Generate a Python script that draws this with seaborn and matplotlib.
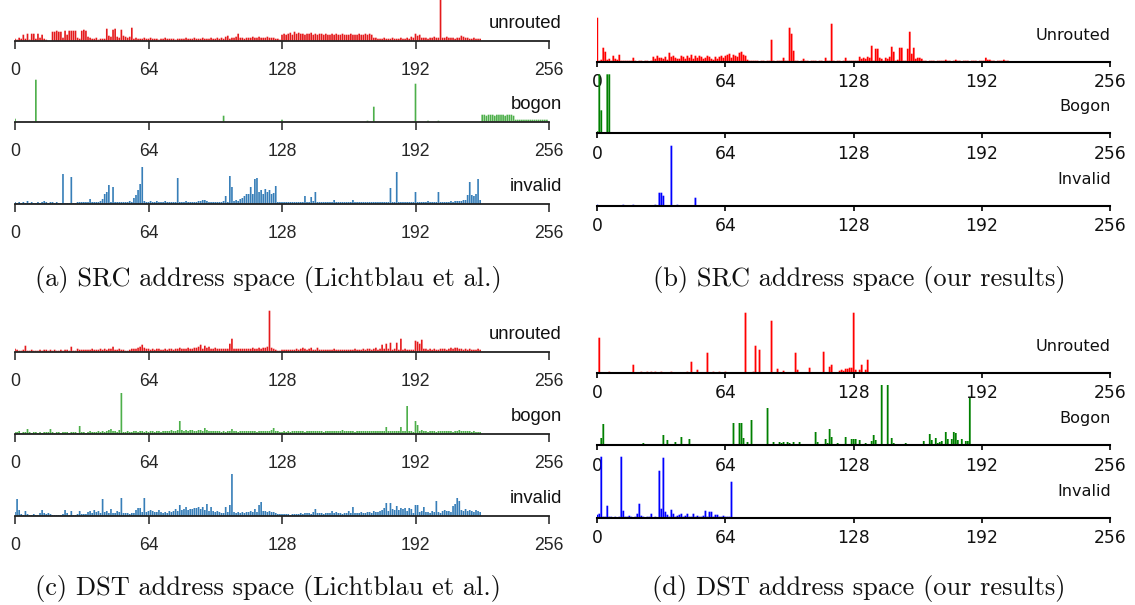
import numpy as np
import matplotlib
matplotlib.use("Agg")
import matplotlib.pyplot as plt
import seaborn as sns

# x axis: first octet of the address (/8 blocks)
ticks = [0, 64, 128, 192, 256]
tick_labels = ["0", "64", "128", "192", "256"]

# bar heights (relative packet counts per /8), index = first octet

# (a) SRC, Lichtblau et al.
src_lit_unrouted = [
    2, 1, 3, 2, 6, 2, 7, 1, 7, 7, 2, 7, 3, 6, 2, 1,
    0, 0, 9, 9, 10, 9, 9, 3, 10, 6, 10, 10, 10, 10, 3, 2,
    10, 11, 10, 4, 3, 2, 2, 3, 1, 2, 2, 2, 12, 5, 4, 11,
    12, 4, 3, 11, 5, 4, 3, 4, 13, 2, 3, 2, 2, 2, 3, 2,
    2, 3, 2, 2, 2, 1, 2, 2, 3, 2, 2, 2, 2, 1, 2, 2,
    2, 2, 3, 2, 2, 2, 3, 2, 2, 2, 3, 2, 2, 2, 3, 2,
    2, 3, 2, 3, 2, 4, 5, 2, 3, 3, 4, 7, 3, 3, 2, 3,
    3, 3, 4, 3, 3, 4, 3, 3, 3, 4, 3, 3, 3, 2, 2, 1,
    6, 7, 6, 7, 8, 6, 9, 7, 8, 7, 7, 6, 7, 7, 8, 6,
    7, 6, 7, 7, 6, 7, 6, 6, 7, 6, 7, 6, 6, 7, 6, 6,
    6, 7, 6, 6, 6, 7, 6, 6, 7, 6, 7, 6, 3, 3, 2, 2,
    2, 3, 2, 2, 2, 3, 2, 2, 2, 3, 2, 2, 3, 2, 4, 3,
    7, 5, 6, 3, 3, 3, 2, 3, 3, 4, 3, 3, 45, 3, 3, 4,
    3, 3, 3, 2, 3, 3, 5, 4, 3, 3, 2, 2, 3, 2, 2, 2,
]
src_lit_bogon = [
    3, 0, 0, 0, 0, 0, 0, 0, 0, 0, 42, 0, 0, 0, 0, 0,
    0, 0, 0, 0, 0, 0, 0, 0, 0, 0, 0, 0, 0, 0, 0, 0,
    0, 0, 0, 0, 0, 0, 0, 0, 0, 0, 0, 0, 0, 0, 0, 0,
    0, 0, 0, 0, 0, 0, 0, 0, 0, 0, 0, 0, 0, 0, 0, 0,
    0, 0, 0, 0, 0, 0, 0, 0, 0, 0, 0, 0, 0, 0, 0, 0,
    0, 0, 0, 0, 0, 0, 0, 0, 0, 0, 0, 0, 0, 0, 0, 0,
    0, 0, 0, 0, 6, 0, 0, 0, 0, 0, 0, 0, 0, 0, 0, 0,
    0, 0, 0, 0, 0, 0, 0, 0, 0, 0, 0, 0, 0, 0, 0, 0,
    2, 0, 0, 0, 0, 0, 0, 0, 0, 0, 0, 0, 0, 0, 0, 0,
    0, 0, 0, 0, 0, 0, 0, 0, 0, 0, 0, 0, 0, 0, 0, 0,
    0, 0, 0, 0, 0, 0, 0, 0, 0, 1, 0, 0, 15, 0, 0, 0,
    0, 0, 0, 0, 0, 0, 0, 0, 0, 0, 0, 0, 0, 0, 0, 0,
    38, 0, 0, 0, 0, 0, 1, 0, 0, 0, 0, 1, 0, 0, 0, 0,
    0, 0, 0, 0, 0, 0, 0, 0, 0, 0, 0, 0, 0, 0, 0, 0,
    7, 7, 6, 7, 7, 7, 6, 7, 7, 7, 7, 6, 7, 7, 7, 6,
    2, 2, 2, 2, 2, 2, 2, 2, 2, 2, 2, 2, 2, 2, 2, 2,
]
src_lit_invalid = [
    2, 1, 2, 1, 2, 1, 3, 1, 2, 1, 1, 2, 1, 2, 3, 2,
    1, 2, 2, 1, 2, 1, 1, 30, 1, 1, 1, 27, 1, 1, 2, 2,
    2, 2, 2, 2, 5, 2, 2, 2, 2, 3, 5, 10, 12, 19, 2, 17,
    2, 2, 2, 2, 2, 2, 2, 3, 2, 6, 9, 14, 20, 37, 3, 2,
    2, 3, 2, 2, 3, 2, 2, 2, 3, 2, 2, 2, 2, 2, 26, 2,
    2, 2, 3, 2, 2, 2, 2, 2, 3, 3, 4, 4, 3, 2, 2, 2,
    2, 2, 2, 2, 3, 8, 2, 28, 17, 3, 4, 3, 5, 6, 8, 10,
    10, 17, 10, 25, 26, 12, 14, 10, 15, 12, 14, 10, 11, 18, 2, 2,
    2, 2, 2, 2, 2, 2, 2, 2, 2, 2, 2, 8, 2, 2, 7, 3,
    12, 2, 2, 2, 2, 2, 2, 2, 2, 4, 2, 2, 2, 2, 2, 2,
    2, 2, 4, 2, 2, 2, 2, 2, 2, 2, 2, 2, 2, 2, 2, 2,
    2, 2, 2, 2, 16, 2, 2, 32, 2, 2, 2, 2, 2, 2, 2, 2,
    12, 2, 2, 2, 2, 2, 3, 2, 2, 2, 2, 12, 2, 2, 2, 2,
    2, 3, 2, 3, 3, 3, 3, 4, 4, 9, 22, 9, 8, 10, 25, 4,
]

# (b) SRC, our results
src_our_unrouted = [
    44, 1, 2, 14, 10, 2, 3, 1, 6, 3, 2, 7, 1, 1, 1, 1,
    1, 1, 4, 1, 0, 1, 1, 0, 1, 1, 0, 1, 5, 3, 6, 4,
    4, 3, 5, 2, 9, 5, 6, 4, 3, 3, 6, 5, 3, 6, 4, 7,
    3, 6, 4, 6, 5, 3, 4, 6, 5, 3, 2, 5, 3, 5, 6, 4,
    6, 7, 8, 4, 7, 6, 5, 9, 10, 7, 6, 2, 1, 1, 1, 1,
    1, 0, 1, 1, 0, 1, 1, 22, 1, 0, 1, 1, 1, 4, 1, 1,
    34, 28, 11, 1, 1, 0, 1, 3, 1, 1, 0, 1, 1, 1, 0, 1,
    1, 0, 4, 1, 1, 38, 1, 0, 1, 1, 0, 1, 4, 1, 1, 1,
    1, 1, 1, 5, 3, 4, 3, 5, 4, 16, 1, 13, 13, 4, 3, 1,
    4, 3, 5, 15, 10, 1, 2, 14, 14, 1, 1, 13, 30, 8, 14, 3,
    4, 4, 3, 1, 1, 0, 1, 1, 1, 0, 1, 1, 1, 1, 2, 1,
    1, 0, 1, 2, 1, 1, 0, 1, 1, 1, 0, 1, 1, 1, 0, 1,
    1, 1, 4, 2, 2, 1, 1, 0, 1, 1, 1, 2, 1, 1,
]
src_our_bogon = [
    2, 59, 23, 0, 0, 59, 59, 1, 1, 1, 0, 1, 1, 0, 1, 1,
    1, 0, 1, 1, 1, 0, 1, 1, 0, 1, 1, 1, 0, 1, 1, 1,
    0, 1, 1, 1, 0, 1, 1, 0, 1,
]
src_our_invalid = [
    1, 0, 0, 0, 0, 0, 0, 0, 0, 0, 0, 0, 0, 1, 0, 0,
    0, 0, 1, 0, 0, 0, 0, 0, 0, 0, 0, 0, 0, 1, 0, 13,
    13, 10, 0, 0, 0, 60, 0, 0, 1, 0, 0, 0, 0, 0, 0, 0,
    0, 8,
]

# (c) DST, Lichtblau et al.
dst_lit_unrouted = [
    3, 2, 1, 1, 2, 6, 1, 1, 2, 1, 1, 1, 2, 1, 2, 2,
    1, 2, 1, 2, 1, 1, 2, 1, 2, 2, 1, 5, 1, 1, 3, 2,
    2, 2, 2, 2, 2, 3, 2, 2, 2, 3, 2, 3, 2, 3, 3, 5,
    2, 2, 3, 2, 2, 1, 1, 2, 3, 3, 3, 4, 5, 7, 4, 3,
    3, 2, 3, 2, 3, 3, 2, 2, 3, 2, 3, 3, 2, 3, 3, 4,
    3, 3, 3, 4, 3, 3, 4, 4, 5, 7, 3, 6, 4, 5, 3, 3,
    4, 3, 3, 3, 3, 3, 3, 8, 13, 3, 3, 3, 3, 3, 3, 3,
    3, 3, 4, 3, 3, 4, 3, 4, 4, 5, 41, 4, 3, 2, 1, 1,
    2, 2, 2, 2, 2, 2, 2, 3, 2, 3, 4, 3, 2, 3, 4, 2,
    2, 4, 2, 2, 2, 2, 2, 2, 2, 3, 2, 2, 2, 2, 2, 2,
    2, 2, 2, 3, 2, 2, 2, 3, 2, 3, 3, 2, 3, 4, 2, 3,
    7, 3, 8, 3, 9, 2, 3, 9, 2, 13, 2, 3, 2, 2, 2, 2,
    11, 10, 8, 12, 3, 3, 2, 3, 2, 3, 2, 2, 3, 3, 3, 2,
    3, 4, 3, 4, 4, 3, 3, 2, 3, 2, 3, 2, 2, 2, 3, 2,
]
dst_lit_bogon = [
    2, 2, 3, 1, 2, 2, 5, 2, 1, 2, 2, 1, 2, 1, 2, 2,
    2, 5, 2, 1, 2, 2, 1, 2, 2, 2, 1, 2, 2, 2, 1, 8,
    2, 2, 1, 2, 3, 2, 2, 2, 3, 2, 3, 2, 3, 4, 5, 3,
    3, 2, 4, 41, 2, 2, 3, 2, 2, 3, 3, 2, 3, 3, 2, 3,
    2, 3, 3, 2, 3, 3, 2, 3, 3, 3, 3, 4, 3, 3, 4, 13,
    4, 3, 4, 3, 4, 4, 3, 3, 4, 4, 3, 6, 4, 3, 3, 3,
    3, 3, 3, 2, 3, 2, 3, 3, 5, 3, 3, 2, 3, 3, 3, 3,
    3, 3, 3, 3, 2, 3, 3, 3, 3, 3, 3, 4, 6, 3, 3, 2,
    2, 3, 2, 3, 2, 3, 3, 3, 3, 3, 3, 2, 3, 3, 3, 3,
    3, 3, 3, 3, 2, 3, 3, 3, 3, 3, 3, 3, 3, 4, 3, 3,
    3, 3, 3, 2, 3, 3, 3, 3, 3, 3, 3, 3, 3, 3, 3, 3,
    3, 3, 7, 3, 3, 3, 3, 3, 3, 7, 3, 3, 28, 3, 3, 2,
    13, 9, 3, 4, 3, 3, 2, 3, 3, 3, 2, 3, 3, 3, 3, 3,
    3, 3, 2, 3, 3, 4, 3, 3, 3, 3, 3, 2, 3, 2, 2, 2,
]
dst_lit_invalid = [
    4, 17, 6, 2, 1, 5, 2, 1, 1, 2, 1, 1, 3, 6, 3, 2,
    3, 2, 1, 1, 1, 1, 1, 2, 6, 3, 1, 5, 1, 1, 2, 5,
    2, 2, 2, 4, 5, 3, 6, 4, 5, 3, 17, 4, 5, 3, 7, 3,
    3, 5, 4, 18, 3, 3, 3, 2, 3, 3, 6, 8, 8, 4, 18, 4,
    5, 6, 5, 4, 4, 6, 4, 3, 4, 3, 5, 4, 5, 7, 5, 11,
    6, 7, 9, 6, 7, 7, 8, 8, 9, 7, 9, 6, 12, 5, 9, 5,
    4, 5, 4, 3, 3, 9, 4, 11, 42, 4, 3, 4, 3, 4, 3, 4,
    4, 5, 4, 7, 4, 11, 14, 5, 5, 4, 5, 4, 4, 3, 2, 2,
    2, 2, 2, 2, 1, 2, 2, 2, 2, 3, 2, 3, 3, 3, 2, 4,
    7, 3, 3, 3, 2, 3, 3, 3, 5, 3, 4, 3, 3, 2, 3, 3,
    5, 3, 9, 3, 3, 3, 4, 3, 3, 4, 4, 3, 5, 4, 4, 5,
    6, 8, 13, 5, 13, 7, 6, 10, 6, 8, 7, 8, 5, 8, 7, 3,
    11, 11, 4, 5, 9, 4, 4, 3, 5, 4, 15, 4, 3, 5, 6, 5,
    5, 4, 10, 12, 18, 15, 6, 5, 7, 5, 6, 5, 4, 6, 5, 4,
]

# (d) DST, our results
dst_our_unrouted = [
    0, 35, 0, 0, 0, 0, 1, 0, 0, 0, 0, 0, 0, 0, 0, 0,
    0, 0, 8, 0, 0, 0, 1, 0, 0, 1, 0, 1, 0, 1, 0, 0,
    1, 0, 0, 0, 0, 1, 0, 0, 0, 0, 0, 0, 0, 1, 0, 11,
    0, 0, 3, 0, 0, 0, 0, 20, 0, 0, 1, 0, 0, 1, 0, 0,
    1, 0, 0, 0, 0, 0, 0, 0, 0, 0, 60, 0, 0, 0, 1, 27,
    0, 23, 0, 0, 0, 0, 0, 52, 0, 0, 4, 0, 0, 2, 0, 0,
    0, 0, 0, 20, 3, 0, 0, 0, 0, 0, 5, 0, 0, 0, 0, 0,
    0, 21, 0, 0, 6, 8, 0, 0, 0, 2, 3, 2, 4, 4, 5, 5,
    60, 3, 0, 3, 8, 0, 3, 13,
]
dst_our_bogon = [
    0, 1, 7, 21, 1, 1, 1, 1, 0, 1, 0, 0, 0, 0, 0, 0,
    1, 0, 0, 0, 0, 1, 0, 2, 0, 1, 1, 1, 0, 1, 1, 0,
    1, 10, 0, 5, 0, 1, 0, 3, 0, 0, 8, 0, 1, 0, 6, 0,
    0, 1, 0, 0, 1, 0, 0, 0, 1, 0, 0, 1, 0, 0, 1, 0,
    0, 0, 0, 0, 22, 0, 0, 22, 22, 7, 0, 3, 0, 25, 0, 0,
    1, 0, 0, 0, 0, 37, 0, 0, 3, 1, 0, 3, 2, 3, 1, 3,
    2, 1, 3, 0, 0, 3, 0, 0, 0, 0, 0, 0, 0, 13, 3, 0,
    0, 0, 6, 2, 16, 8, 1, 1, 2, 1, 1, 0, 8, 0, 0, 6,
    6, 6, 0, 5, 1, 1, 2, 1, 1, 4, 10, 5, 1, 0, 60, 1,
    1, 60, 1, 7, 2, 1, 0, 1, 1, 0, 2, 0, 1, 0, 1, 0,
    1, 0, 1, 4, 0, 1, 11, 5, 1, 7, 2, 3, 4, 1, 13, 6,
    1, 6, 13, 12, 5, 1, 6, 1, 4, 4, 47,
]
dst_our_invalid = [
    3, 4, 61, 1, 1, 12, 1, 1, 0, 1, 0, 1, 61, 7, 1, 1,
    2, 1, 0, 1, 4, 14, 2, 1, 0, 1, 1, 4, 0, 1, 0, 47,
    9, 60, 6, 3, 1, 8, 4, 1, 2, 3, 4, 1, 2, 4, 1, 1,
    4, 1, 2, 1, 1, 2, 7, 1, 6, 6, 1, 3, 3, 1, 1, 2,
    1, 1, 1, 36,
]

# colours
lit_colors = ["#e41a1c", "#4daf4a", "#377eb8"]
our_colors = ["red", "green", "blue"]

sns.set_theme(style="white")
plt.rcParams["font.family"] = ["Liberation Sans", "DejaVu Sans"]

W, H = 1135, 605
fig = plt.figure(figsize=(W / 100, H / 100), dpi=100)
fig.patch.set_facecolor("white")

AX_H = 62  # axes height in px, y data is in px too


def add_panel(x0, x1, base):
    ax = fig.add_axes([x0 / W, 1 - base / H, (x1 - x0) / W, AX_H / H])
    ax.set_facecolor("none")
    return ax


def draw_bars(ax, vals, color, bar_w):
    vals = np.asarray(vals, dtype=float)
    pos = np.arange(len(vals))
    sns.barplot(x=pos, y=vals, native_scale=True, orient="x", color=color,
                saturation=1, width=bar_w, errorbar=None, ax=ax)
    # plain filled bars, no pixel snapping (they are only ~2px wide)
    for p in ax.patches:
        p.set_facecolor(color)
        p.set_edgecolor("none")
        p.set_linewidth(0)
        p.set_snap(False)
    ax.set_xlim(0, 256)
    ax.set_ylim(0, AX_H)
    ax.set_yticks([])
    ax.set_xlabel("")
    ax.set_ylabel("")
    for s in ["top", "right", "left"]:
        ax.spines[s].set_visible(False)
    ax.set_xticks(ticks)


def style_lit(ax, label):
    ax.spines["bottom"].set_color("#222222")
    ax.spines["bottom"].set_linewidth(1.3)
    ax.tick_params(axis="x", direction="out", length=6, width=1.1,
                   color="#222222", pad=9, labelsize=12.7, bottom=True)
    ax.set_xticklabels(tick_labels, fontfamily="Liberation Sans")
    ax.text(262.2, 13, label, ha="right", va="baseline", fontsize=13.3,
            fontfamily="Liberation Sans", color="#111111")


def style_our(ax, label):
    ax.spines["bottom"].set_color("black")
    ax.spines["bottom"].set_linewidth(1.5)
    ax.tick_params(axis="x", direction="out", length=3.8, width=1.2,
                   color="black", pad=4.5, labelsize=12.3, bottom=True)
    ax.set_xticklabels(tick_labels, fontfamily="DejaVu Sans", color="#111111")
    ax.text(256.5, 22, label, ha="right", va="baseline", fontsize=11.6,
            fontfamily="DejaVu Sans", color="#111111")


LX0, LX1 = 15, 549
RX0, RX1 = 597.3, 1110

panels = [
    # (x0, x1, baselines, series, colours, labels, style, bar width)
    (LX0, LX1, [40.7, 121.7, 204], [src_lit_unrouted, src_lit_bogon, src_lit_invalid],
     lit_colors, ["unrouted", "bogon", "invalid"], style_lit, 0.8),
    (RX0, RX1, [61.7, 133.3, 205.7], [src_our_unrouted, src_our_bogon, src_our_invalid],
     our_colors, ["Unrouted", "Bogon", "Invalid"], style_our, 0.9),
    (LX0, LX1, [351.7, 434, 516], [dst_lit_unrouted, dst_lit_bogon, dst_lit_invalid],
     lit_colors, ["unrouted", "bogon", "invalid"], style_lit, 0.8),
    (RX0, RX1, [372.7, 445, 517.7], [dst_our_unrouted, dst_our_bogon, dst_our_invalid],
     our_colors, ["Unrouted", "Bogon", "Invalid"], style_our, 0.9),
]

for x0, x1, bases, series, colors, labels, styler, bw in panels:
    for base, vals, c, lab in zip(bases, series, colors, labels):
        ax = add_panel(x0, x1, base)
        draw_bars(ax, vals, c, bw)
        styler(ax, lab)

captions = [
    (268, 279, "(a) SRC address space (Lichtblau et al.)"),
    (859, 279, "(b) SRC address space (our results)"),
    (268, 588, "(c) DST address space (Lichtblau et al.)"),
    (859, 588, "(d) DST address space (our results)"),
]
for cx, cy, txt in captions:
    fig.text(cx / W, 1 - cy / H, txt, ha="center", va="center",
             fontfamily="cmr10", fontsize=19, color="#111111")

fig.savefig("out.png", dpi=100, facecolor="white")
